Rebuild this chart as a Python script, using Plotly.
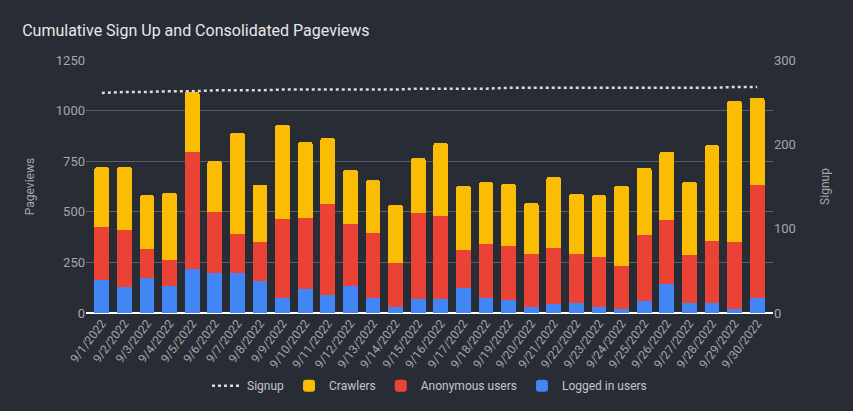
# Cumulative sign up and consolidated pageviews - stacked bars + signup line
import plotly.graph_objs as go

# Data
dates = ['9/%d/2022' % d for d in range(1, 31)]

logged_in = [163, 127, 173, 134, 216, 196, 196, 157, 74, 117,
             87, 134, 74, 28, 68, 68, 124, 74, 64, 28,
             45, 48, 28, 18, 58, 143, 48, 48, 18, 74]
anonymous = [261, 282, 142, 127, 579, 302, 193, 193, 389, 351,
             451, 305, 320, 218, 425, 410, 186, 266, 266, 262,
             275, 242, 247, 213, 326, 315, 237, 307, 332, 558]
crawlers = [296, 311, 267, 331, 297, 252, 500, 282, 465, 376,
            326, 267, 262, 287, 272, 361, 317, 306, 307, 253,
            351, 297, 307, 396, 332, 337, 361, 474, 697, 430]
signup = [261, 262, 262, 263, 263, 264, 264, 264, 265, 265,
          265, 265, 265, 265, 266, 266, 266, 266, 267, 267,
          267, 267, 267, 267, 267, 267, 267, 267, 268, 268]

bg = '#282c35'
tick_color = '#a3a6ab'

data = [
    go.Bar(x=dates, y=logged_in, name='Logged in users',
           marker=dict(color='#4285f4', line=dict(width=0))),
    go.Bar(x=dates, y=anonymous, name='Anonymous users',
           marker=dict(color='#ea4335', line=dict(width=0))),
    go.Bar(x=dates, y=crawlers, name='Crawlers',
           marker=dict(color='#fbbc04', line=dict(width=0))),
    go.Scatter(x=dates, y=signup, name='Signup', yaxis='y2',
               mode='lines', line=dict(color='#d9dadc', width=2.5, dash='dot')),
]

layout = go.Layout(
    title=dict(text='Cumulative Sign Up and Consolidated Pageviews',
               x=0.026, xanchor='left', y=0.925, yanchor='middle',
               font=dict(size=16, color='#e6e7e9')),
    width=853, height=411,
    paper_bgcolor=bg, plot_bgcolor=bg,
    font=dict(family='Roboto, Arial, sans-serif', color=tick_color, size=12),
    barmode='stack', bargap=0.34, barcornerradius=2,
    margin=dict(l=86, r=80, t=60, b=98, autoexpand=False),
    xaxis=dict(tickangle=-53, tickfont=dict(size=12, color=tick_color),
               range=[-0.7, 29.7], automargin=False,
               showgrid=False, showline=False, ticks=''),
    yaxis=dict(title=dict(text='Pageviews', font=dict(size=12, color=tick_color), standoff=18),
               range=[0, 1250], dtick=250, gridcolor='#5a5d63', gridwidth=1,
               zeroline=True, zerolinecolor='#ffffff', zerolinewidth=1.5,
               automargin=False, tickfont=dict(size=13, color=tick_color)),
    yaxis2=dict(title=dict(text='Signup', font=dict(size=12, color=tick_color), standoff=25),
                overlaying='y', side='right', range=[0, 300], dtick=100,
                showgrid=False, zeroline=False, automargin=False,
                tickfont=dict(size=13, color=tick_color)),
    legend=dict(orientation='h', x=0.5, xanchor='center', y=-0.23, yanchor='top',
                traceorder='reversed', itemwidth=30,
                font=dict(size=12, color='#c4c6ca'),
                bgcolor='rgba(0,0,0,0)'),
    showlegend=True,
)

fig = go.Figure(data=data, layout=layout)
fig.write_html('out.html', config={'displayModeBar': False},
               post_script="document.body.style.margin='0';"
                           "document.body.style.background='#282c35';")
